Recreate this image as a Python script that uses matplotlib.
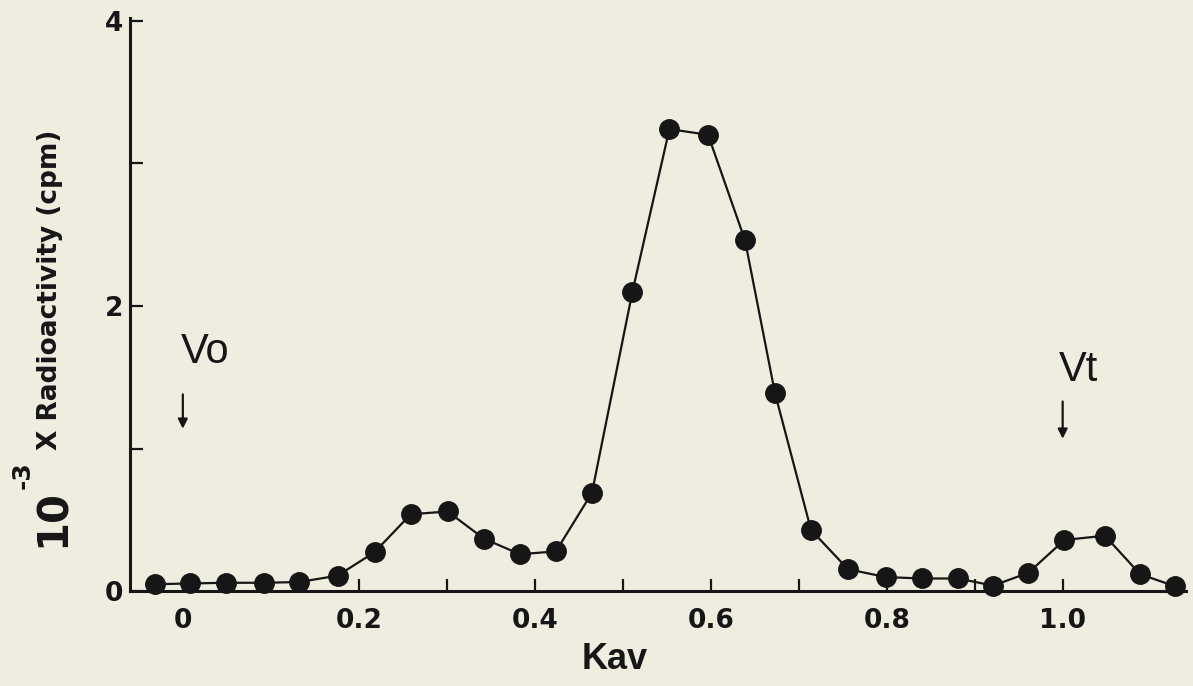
import numpy as np
import matplotlib.pyplot as plt

plt.rcParams['font.family'] = ['DejaVu Sans']

# fraction positions (Kav) and counts (x 10^-3 cpm)
kav = [-0.032, 0.008, 0.049, 0.092, 0.132, 0.176, 0.218, 0.259, 0.301, 0.342,
       0.383, 0.424, 0.465, 0.511, 0.553, 0.597, 0.639, 0.673, 0.714, 0.756,
       0.799, 0.840, 0.881, 0.921, 0.961, 1.002, 1.048, 1.088, 1.128]
cpm = [0.05, 0.055, 0.06, 0.06, 0.065, 0.11, 0.275, 0.54, 0.56, 0.37,
       0.26, 0.28, 0.69, 2.10, 3.24, 3.20, 2.46, 1.39, 0.43, 0.155,
       0.10, 0.09, 0.09, 0.04, 0.13, 0.36, 0.39, 0.12, 0.035]

x_ticks = [0, 0.2, 0.4, 0.6, 0.8, 1.0]
x_labels = ["0", "0.2", "0.4", "0.6", "0.8", "1.0"]
y_ticks = [0, 2, 4]
y_labels = ["0", "2", "4"]

paper = "#efede0"
ink = "#161616"
helv = ['Liberation Sans', 'DejaVu Sans']

fig = plt.figure(figsize=(11.93, 6.86), dpi=100, facecolor=paper)
ax = fig.add_axes([0.109, 0.138, 0.885, 0.836])
ax.set_facecolor(paper)

ax.plot(kav, cpm, color=ink, lw=1.6, marker="o", ms=14, mfc=ink, mec=ink,
        clip_on=False, zorder=3)

ax.set_xlim(-0.06, 1.14)
ax.set_ylim(0, 4.02)

for s in ["top", "right"]:
    ax.spines[s].set_visible(False)
for s in ["left", "bottom"]:
    ax.spines[s].set_linewidth(2.2)
    ax.spines[s].set_color(ink)

ax.set_xticks(x_ticks)
ax.set_xticklabels(x_labels)
ax.set_xticks(np.arange(0.1, 1.1, 0.2), minor=True)
ax.set_yticks(y_ticks)
ax.set_yticklabels(y_labels)
ax.set_yticks([1, 3], minor=True)
ax.tick_params(which="both", direction="in", color=ink, width=1.6)
ax.tick_params(which="major", length=9, labelsize=19, labelcolor=ink)
ax.tick_params(axis="x", which="major", pad=12)
ax.tick_params(axis="y", which="major", pad=5)
ax.tick_params(which="minor", length=9)
for lab in ax.get_xticklabels() + ax.get_yticklabels():
    lab.set_fontweight("bold")

ax.set_xlabel("Kav", fontsize=26, fontweight="bold", color=ink, labelpad=6,
              x=0.459, family=helv)

# y label pieces
fig.text(0.044, 0.203, "10", rotation=90, fontsize=30, fontweight="bold",
         color=ink, ha="center", va="bottom")
fig.text(0.019, 0.308, "-3", rotation=90, fontsize=18, fontweight="bold",
         color=ink, ha="center", va="center")
fig.text(0.042, 0.344, "X Radioactivity (cpm)", rotation=90, fontsize=19,
         fontweight="bold", color=ink, ha="center", va="bottom")

# void / total volume markers
ax.text(0.025, 1.68, "Vo", fontsize=30, color=ink, ha="center", va="center",
        family=helv)
ax.annotate("", xy=(0.0, 1.12), xytext=(0.0, 1.4),
            arrowprops=dict(arrowstyle="-|>", color=ink, lw=1.6,
                            mutation_scale=14))
ax.text(1.018, 1.55, "Vt", fontsize=30, color=ink, ha="center", va="center",
        family=helv)
ax.annotate("", xy=(1.0, 1.05), xytext=(1.0, 1.35),
            arrowprops=dict(arrowstyle="-|>", color=ink, lw=1.6,
                            mutation_scale=14))

fig.savefig("out.png", dpi=100, facecolor=paper)
